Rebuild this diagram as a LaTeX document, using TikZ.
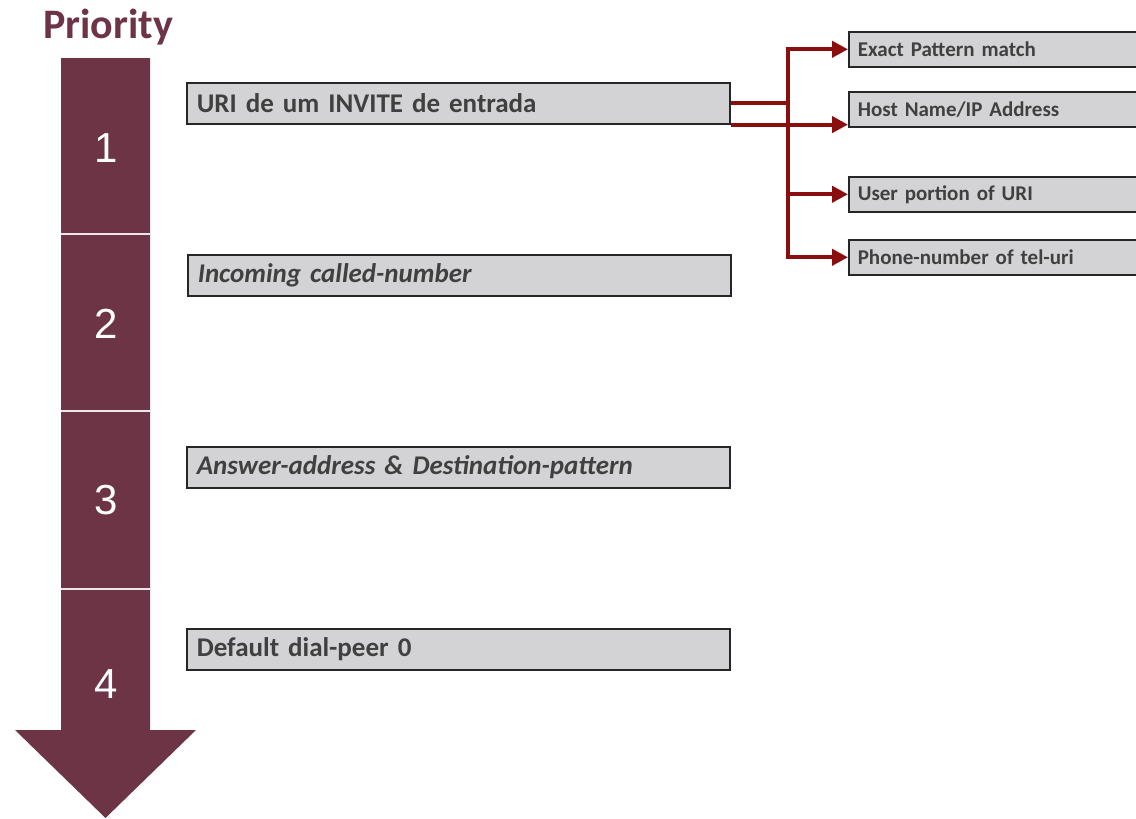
\documentclass[tikz,border=0pt]{standalone}
\usepackage{fontspec}
\setmainfont{Carlito}
\newfontfamily\numfont{Liberation Sans}
\usetikzlibrary{arrows.meta}
\definecolor{wine}{HTML}{6D3446}
\definecolor{linkred}{HTML}{8B0E0E}
\definecolor{boxgray}{HTML}{D3D3D5}
\definecolor{txtgray}{HTML}{404040}
\tikzset{
  stepbox/.style={draw=black!85, line width=1.6pt, fill=boxgray, anchor=north west,
    minimum height=41pt, text width=523pt, inner xsep=10pt, inner ysep=0pt, align=left,
    text=txtgray, font=\bfseries\fontsize{27}{30}\selectfont},
  matchbox/.style={draw=black!85, line width=1.6pt, fill=boxgray, anchor=north west,
    minimum height=35pt, text width=282pt, inner xsep=9pt, inner ysep=0pt, align=left,
    text=txtgray, font=\bfseries\fontsize{21}{24}\selectfont},
  rank/.style={text=white, font=\numfont\fontsize{42}{46}\selectfont, inner sep=0pt},
  link/.style={draw=linkred, line width=4pt},
  tip/.style={-{Triangle[length=16pt,width=16pt]}},
}
\begin{document}
\begin{tikzpicture}[x=1pt,y=-1pt]
\useasboundingbox (0,0) rectangle (1136,819);
\clip (0,0) rectangle (1136,819);

% priority arrow
\node[text=wine, font=\bfseries\fontsize{42}{45}\selectfont, inner sep=0pt] (title) at (108,27) {Priority};
\fill[wine] (61,58) -- (150,58) -- (150,730) -- (196,730) -- (105.5,818)
  -- (15,730) -- (61,730) -- cycle;
\foreach \y in {234,411,589}
  \draw[white!88!wine, line width=2pt] (61,\y) -- (150,\y);
\node[rank] (r1) at (106,148) {1};
\node[rank] (r2) at (106,324) {2};
\node[rank] (r3) at (106,500) {3};
\node[rank] (r4) at (106,684) {4};

% matching steps
\node[stepbox] (uri) at (186,82) {URI de um INVITE de entrada};
\node[stepbox] (called) at (187,254) {\itshape Incoming called-number};
\node[stepbox] (answer) at (186,446) {\itshape Answer-address \& Destination-pattern};
\node[stepbox] (default) at (186,628) {Default dial-peer 0};

% URI match types
\node[matchbox] (exact) at (848,31) {Exact Pattern match};
\node[matchbox] (host) at (848,91) {Host Name/IP Address};
\node[matchbox] (user) at (848,176) {User portion of URI};
\node[matchbox] (phone) at (848,239) {Phone-number of tel-uri};

\coordinate (trunk) at (788,48);
\draw[link] (uri.east) -- (uri.east -| trunk);
\draw[link, {Triangle[length=16pt,width=16pt]}-{Triangle[length=16pt,width=16pt]}]
  (exact.west) -- (exact.west -| trunk) |- (phone.west);
\draw[link, tip] (uri.south east) -- (uri.south east -| host.west);
\draw[link, tip] (user.west -| trunk) -- (user.west);
\end{tikzpicture}
\end{document}
